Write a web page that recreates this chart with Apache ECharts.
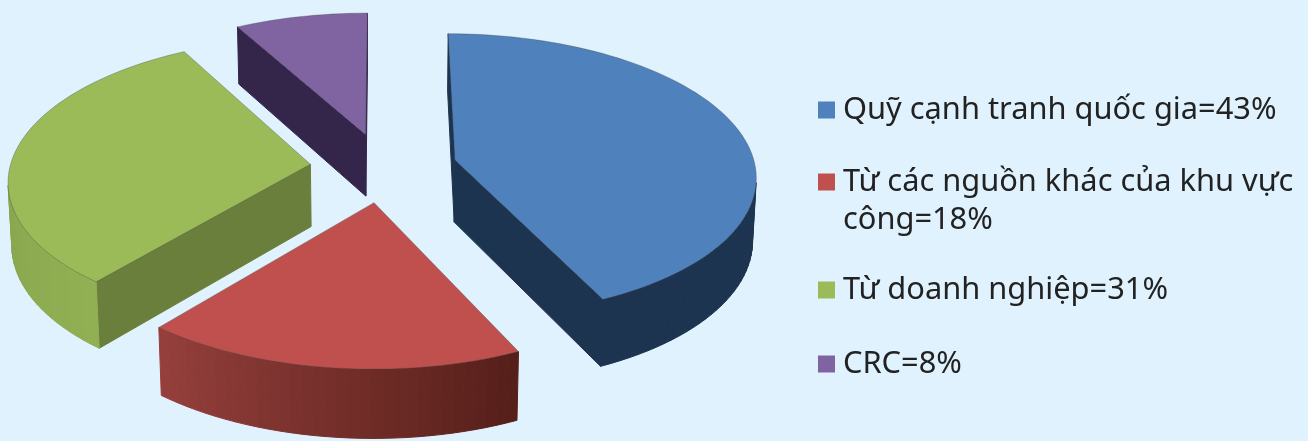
<!DOCTYPE html>
<html>
<head>
<meta charset="utf-8">
<style>
  html, body { margin: 0; padding: 0; background: #dff2fd; }
  #chart { width: 1308px; height: 441px; }
</style>
<script src="https://cdn.jsdelivr.net/npm/echarts@6/dist/echarts.min.js"></script>
</head>
<body>
<div id="chart"></div>
<script>
// Funding shares, in percent
const sliceLabels = [
  'Quỹ cạnh tranh quốc gia=43%',
  'Từ các nguồn khác của khu vực\ncông=18%',
  'Từ doanh nghiệp=31%',
  'CRC=8%'
];
const sliceValues = [43, 18, 31, 8];

// Colours per slice: top face, straight walls, rim at start angle, rim at end angle
const topColors = ['#4f81bd', '#c0504d', '#9bbb59', '#8064a2'];
const wallColors = ['#1d3450', '#5a201c', '#697f3b', '#33264a'];
const rimStartColors = ['#1d3450', '#561f1a', '#91b053', '#33264a'];
const rimEndColors = ['#1d3450', '#953f3b', '#7b9646', '#33264a'];

// Drawing order, back to front
const paintOrder = [3, 2, 0, 1];

// Vertical centre of each legend swatch
const legendCenters = [110, 182, 290, 364];

// Pie projection
const VIEW = { cx: 383.5, cy: 167.5, rx: 300.5, ry: 141, depth: 63, explode: 0.245, persp: 0.105, sink: 0.01 };
const RIM_STEP = Math.PI / 90;
const LEGEND_LINE = 38;
const LEGEND_TEXT_LIFT = 8;

const total = sliceValues.reduce((a, b) => a + b, 0);
const startAngles = sliceValues.map((_, i) =>
  sliceValues.slice(0, i).reduce((a, b) => a + b, 0) / total * Math.PI * 2);

function project(u, v, z) {
  const w = 1 / (1 - VIEW.persp * v + VIEW.sink * z);
  return [VIEW.cx + VIEW.rx * u * w, VIEW.cy + (VIEW.ry * v + VIEW.depth * z) * w];
}

function shoelace(pts) {
  let s = 0;
  pts.forEach((p, i) => {
    const q = pts[(i + 1) % pts.length];
    s += p[0] * q[1] - q[0] * p[1];
  });
  return s;
}

function mix(c1, c2, t) {
  const ch = (c, k) => parseInt(c.substr(1 + k * 2, 2), 16);
  const out = [0, 1, 2].map(k => Math.round(ch(c1, k) + (ch(c2, k) - ch(c1, k)) * t));
  return 'rgb(' + out.join(',') + ')';
}

function polygon(points, fill, stroke, lineWidth) {
  return {
    type: 'polygon',
    shape: { points: points },
    style: { fill: fill, stroke: stroke || fill, lineWidth: lineWidth === undefined ? 1 : lineWidth, lineJoin: 'round' }
  };
}

function renderSlice(idx) {
  return function (params, api) {
    const value = api.value(0);
    const a0 = startAngles[idx];
    const a1 = a0 + value / total * Math.PI * 2;
    const mid = (a0 + a1) / 2;
    const ou = VIEW.explode * Math.sin(mid);
    const ov = -VIEW.explode * Math.cos(mid);

    const steps = Math.max(2, Math.ceil((a1 - a0) / RIM_STEP));
    const outline = [[ou, ov]];
    for (let s = 0; s <= steps; s++) {
      const a = a0 + (a1 - a0) * s / steps;
      outline.push([ou + Math.sin(a), ov - Math.cos(a)]);
    }

    const children = [];
    // Side faces that look towards the viewer: straight walls first, then the rim strips
    const faces = [];
    const count = outline.length;
    for (let i = 0; i < count; i++) {
      const p = outline[i];
      const q = outline[(i + 1) % count];
      const quad = [project(p[0], p[1], 0), project(q[0], q[1], 0), project(q[0], q[1], 1), project(p[0], p[1], 1)];
      if (shoelace(quad) >= 0) continue;
      const straight = i === 0 || i === count - 1;
      const t = (i - 1) / (steps - 1);
      const fill = straight ? wallColors[idx] : mix(rimStartColors[idx], rimEndColors[idx], t);
      faces.push(polygon(quad, fill));
    }
    children.push.apply(children, faces);

    // Top face
    const top = outline.map(p => project(p[0], p[1], 0));
    children.push(polygon(top, topColors[idx], 'rgba(70,70,70,0.35)', 1));

    return { type: 'group', children: children };
  };
}

const chart = echarts.init(document.getElementById('chart'), null, { renderer: 'canvas' });

chart.setOption({
  animation: false,
  backgroundColor: '#dff2fd',
  legend: sliceLabels.map((name, i) => ({
    data: [name],
    left: 818,
    top: legendCenters[i] - ((name.indexOf('\n') >= 0 ? 3 : 1) * LEGEND_LINE + LEGEND_TEXT_LIFT) / 2,
    padding: 0,
    icon: 'rect',
    itemWidth: 17,
    itemHeight: 17,
    selectedMode: false,
    // A blank first line keeps the swatch level with the first line of wrapped text
    formatter: n => (n.indexOf('\n') >= 0 ? '\n' + n : n),
    textStyle: {
      fontFamily: 'Noto Sans',
      fontSize: 30.8,
      lineHeight: LEGEND_LINE,
      color: '#222222',
      padding: [0, 0, LEGEND_TEXT_LIFT, 3]
    }
  })),
  series: paintOrder.map((i, order) => ({
    type: 'custom',
    name: sliceLabels[i],
    coordinateSystem: 'none',
    z: order + 2,
    silent: true,
    itemStyle: { color: topColors[i] },
    renderItem: renderSlice(i),
    data: [[sliceValues[i]]]
  }))
});
</script>
</body>
</html>
